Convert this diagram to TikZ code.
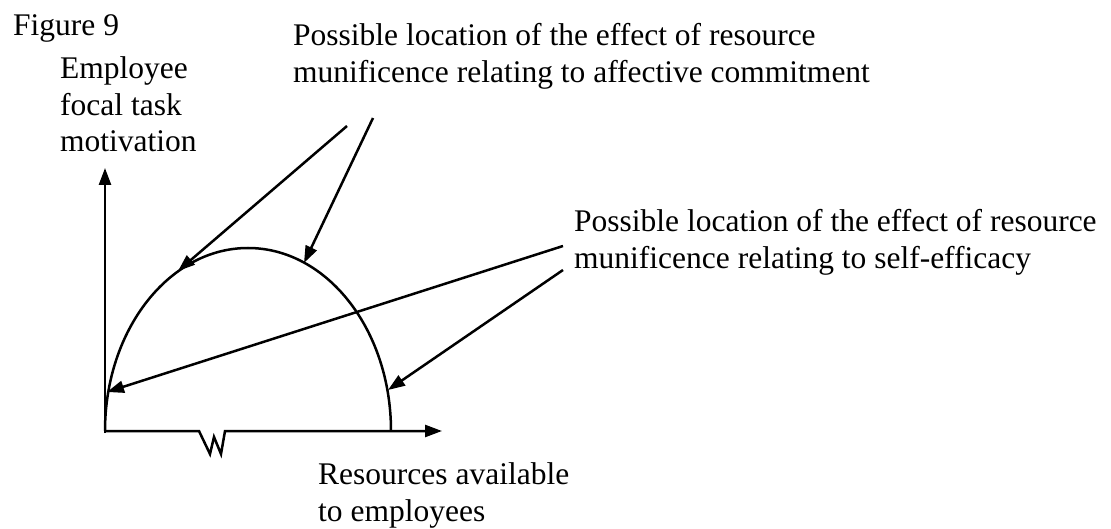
\documentclass[tikz,border=0pt]{standalone}
\usepackage{fontspec}
\setmainfont{Liberation Serif}
\usetikzlibrary{arrows.meta}
\begin{document}
\begin{tikzpicture}[x=1pt,y=-1pt,
  label/.style={inner sep=0pt, anchor=north west, align=left,
    font=\fontsize{31.5}{36.5}\selectfont},
  thick line/.style={line width=2.5pt},
  pointer/.style={thick line, -{Triangle[length=17pt,width=12pt]}}]
  \useasboundingbox (0,0) rectangle (1111,529);

  % captions
  \node[label] (fig) at (13,14.5) {Figure 9};
  \node[label] (ylab) at (60,56.5) {Employee\\focal task\\motivation};
  \node[label] (affect) at (293,23.5) {Possible location of the effect of resource\\munificence relating to affective commitment};
  \node[label] (selfeff) at (574,209.5) {Possible location of the effect of resource\\munificence relating to self-efficacy};
  \node[label] (xlab) at (318,462.5) {Resources available\\to employees};

  % axes with a break in the horizontal one
  \coordinate (origin) at (105,431);
  \coordinate (ytip) at (105,168);
  \coordinate (xtip) at (442,431);
  \draw[pointer] (105,433) -- (ytip);
  \draw[pointer, line join=miter] (origin) -- (199,431) -- (210,454) -- (214,437)
    -- (221,454) -- (225,431) -- (xtip);

  % inverted-U curve
  \draw[thick line] (origin) arc[start angle=180, end angle=360, x radius=143, y radius=183];

  % arrow ends on the curve
  \coordinate (a1) at (178,271);
  \coordinate (a2) at (304,263);
  \coordinate (b1) at (107,392);
  \coordinate (b2) at (388,390);
  \coordinate (s1) at (347,126);
  \coordinate (s2) at (373,118);
  \coordinate (t1) at (563,246);
  \coordinate (t2) at (563,270);

  \draw[pointer] (s1) -- (a1);
  \draw[pointer] (s2) -- (a2);
  \draw[pointer] (t1) -- (b1);
  \draw[pointer] (t2) -- (b2);
\end{tikzpicture}
\end{document}
